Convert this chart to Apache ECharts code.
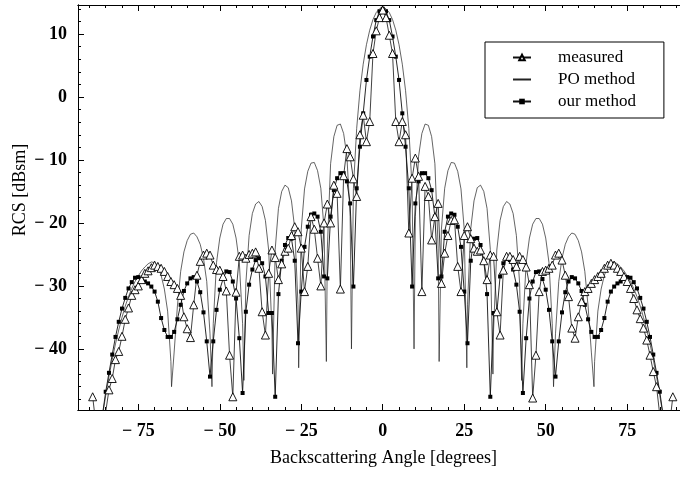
<!DOCTYPE html>
<html>
<head>
<meta charset="utf-8">
<script src="https://cdn.jsdelivr.net/npm/echarts@6/dist/echarts.min.js"></script>
<style>
  html, body { margin: 0; padding: 0; background: #fff; }
  #chart { width: 680px; height: 477px; }
</style>
</head>
<body>
<div id="chart"></div>
<script>
// Backscattering RCS of the target versus angle: measured data, PO prediction, and our method.

// Measured samples (degrees, dBsm)
const measuredAngles = [
  -89,-88,-87,-86,-85,-84,-83,-82,-81,-80,-79,-78,-77,-76,-75,-74,-73,-72,-71,-70,
  -69,-68,-67,-66,-65,-64,-63,-62,-61,-60,-59,-58,-57,-56,-55,-54,-53,-52,-51,-50,
  -49,-48,-47,-46,-45,-44,-43,-42,-41,-40,-39,-38,-37,-36,-35,-34,-33,-32,-31,-30,
  -29,-28,-27,-26,-25,-24,-23,-22,-21,-20,-19,-18,-17,-16,-15,-14,-13,-12,-11,-10,
  -9,-8,-7,-6,-5,-4,-3,-2,-1,0,1,2,3,4,5,6,7,8,9,10,
  11,12,13,14,15,16,17,18,19,20,21,22,23,24,25,26,27,28,29,30,
  31,32,33,34,35,36,37,38,39,40,41,42,43,44,45,46,47,48,49,50,
  51,52,53,54,55,56,57,58,59,60,61,62,63,64,65,66,67,68,69,70,
  71,72,73,74,75,76,77,78,79,80,81,82,83,84,85,86,87,88,89
];
const measuredDb = [
  -47.6,-52.0,-55.0,-53.0,-50.0,-46.5,-44.7,-41.7,-40.4,-38.0,-35.3,-33.5,-31.5,-30.6,-30.0,-29.0,-28.0,-27.6,-27.1,-26.7,
  -26.9,-27.2,-27.7,-28.5,-29.3,-29.8,-30.4,-31.5,-34.9,-36.8,-38.2,-33.0,-28.3,-26.1,-25.1,-24.8,-25.1,-26.7,-27.4,-27.5,
  -28.5,-30.8,-41.0,-47.6,-31.0,-25.3,-25.1,-25.6,-25.0,-24.8,-24.6,-27.2,-34.1,-37.8,-28.0,-24.3,-25.5,-29.0,-26.5,-24.5,
  -24.0,-22.0,-20.6,-21.4,-24.0,-30.9,-26.9,-19.0,-21.0,-25.6,-30.0,-20.0,-17.0,-20.0,-14.0,-15.3,-30.5,-12.5,-8.2,-9.5,
  -13.0,-15.8,-6.0,-2.9,-7.1,-3.9,6.9,10.5,12.6,13.8,12.6,9.8,6.9,-3.9,-7.1,-3.9,-6.0,-21.6,-12.9,-9.7,
  -12.6,-30.9,-14.2,-15.8,-22.7,-19.0,-16.9,-29.6,-24.8,-22.0,-19.6,-19.5,-26.9,-30.9,-22.0,-20.6,-22.5,-24.0,-24.5,-24.3,
  -26.0,-29.0,-25.1,-25.3,-34.1,-37.8,-27.5,-25.3,-25.3,-25.8,-26.9,-25.3,-25.8,-27.0,-29.8,-47.8,-41.0,-30.9,-27.7,-27.5,
  -27.2,-26.7,-25.1,-24.8,-25.9,-28.3,-31.7,-36.7,-38.3,-34.9,-32.5,-30.9,-30.4,-29.6,-29.0,-28.5,-28.0,-27.2,-26.7,-26.4,
  -26.7,-27.2,-27.7,-28.5,-29.3,-30.4,-32.0,-33.8,-35.2,-36.7,-38.6,-41.0,-43.6,-46.0,-50.5,-53.0,-55.0,-52.0,-47.6
];

// Our method (degrees, dBsm)
const ourAngles = [
  -86,-85,-84,-83,-82,-81,-80,-79,-78,-77,-76,-75,-74,-73,-72,-71,-70,-69,-68,-67,
  -66,-65,-64,-63,-62,-61,-60,-59,-58,-57,-56,-55,-54,-53,-52,-51,-50,-49,-48,-47,
  -46,-45,-44,-43,-42,-41,-40,-39,-38,-37,-36,-35,-34,-33,-32,-31,-30,-29,-28,-27,
  -26,-25,-24,-23,-22,-21,-20,-19,-18,-17,-16,-15,-14,-13,-12,-11,-10,-9,-8,-7,
  -6,-5,-4,-3,-2,-1,0,1,2,3,4,5,6,7,8,9,10,11,12,13,
  14,15,16,17,18,19,20,21,22,23,24,25,26,27,28,29,30,31,32,33,
  34,35,36,37,38,39,40,41,42,43,44,45,46,47,48,49,50,51,52,53,
  54,55,56,57,58,59,60,61,62,63,64,65,66,67,68,69,70,71,72,73,
  74,75,76,77,78,79,80,81,82,83,84,85,86
];
const ourDb = [
  -50.5,-46.8,-43.8,-40.9,-38.1,-35.7,-33.6,-31.9,-30.4,-29.4,-28.7,-28.6,-28.9,-29.3,-29.6,-30.1,-30.9,-32.5,-35.1,-37.0,
  -38.1,-38.1,-37.3,-35.3,-33.0,-30.8,-29.6,-28.8,-28.6,-29.3,-31.0,-34.2,-38.8,-44.4,-38.8,-33.8,-30.6,-28.9,-27.7,-27.8,
  -29.3,-32.0,-38.3,-47.0,-34.1,-29.8,-27.4,-25.9,-25.6,-26.4,-28.5,-34.3,-34.3,-47.6,-31.3,-26.0,-23.5,-22.4,-22.5,-26.0,
  -39.1,-30.9,-23.8,-20.6,-18.7,-18.5,-19.0,-21.4,-28.5,-28.8,-19.0,-14.8,-12.9,-12.1,-12.1,-13.4,-16.9,-30.1,-14.5,-7.9,
  -2.6,2.7,6.4,9.6,12.2,13.6,14.0,13.6,12.2,9.6,6.4,2.7,-2.6,-7.9,-14.5,-30.1,-16.9,-13.4,-12.1,-12.1,
  -12.9,-14.8,-19.0,-28.8,-28.5,-21.4,-19.0,-18.5,-18.7,-20.6,-23.8,-30.9,-39.1,-26.0,-22.5,-22.4,-23.5,-26.0,-31.3,-47.6,
  -34.3,-34.3,-28.5,-26.4,-25.6,-25.9,-27.4,-29.8,-34.1,-47.0,-38.3,-32.0,-29.3,-27.8,-27.7,-28.9,-30.6,-33.8,-38.8,-44.4,
  -38.8,-34.2,-31.0,-29.3,-28.6,-28.8,-29.6,-30.8,-33.0,-35.3,-37.3,-38.1,-38.1,-37.0,-35.1,-32.5,-30.9,-30.1,-29.6,-29.3,
  -28.9,-28.6,-28.7,-29.4,-30.4,-31.9,-33.6,-35.7,-38.1,-40.9,-43.8,-46.8,-50.5
];

// Physical optics prediction (degrees, dBsm), traced along the curve including its nulls
const poAngles = [
  -87,-86,-85,-84,-83,-82,-81,-80,-79,-78,-77,-76,-75,-74,-73,-72,-71,-70,-69,-68,-67,-66,-65,-64.8,
  -64,-63,-62,-61,-60,-59,-58,-57,-56,-55,-54,-53,-52.4,
  -52,-51,-50,-49,-48,-47,-46,-45,-44,-43,-42.6,
  -42,-41,-40,-39,-38,-37,-36,-35,-34,-33.8,
  -33,-32,-31,-30,-29,-28,-27,-26,-25.8,
  -25,-24,-23,-22,-21,-20,-19,-18,-17.3,
  -17,-16,-15,-14,-13,-12,-11,-10,-9.6,
  -9,-8,-7,-6,-5,-4,-3,-2,-1,0,1,2,3,4,5,6,7,8,9,
  9.6,10,11,12,13,14,15,16,17,
  17.3,18,19,20,21,22,23,24,25,
  25.8,26,27,28,29,30,31,32,33,
  33.8,34,35,36,37,38,39,40,41,42,
  42.6,43,44,45,46,47,48,49,50,51,52,
  52.4,53,54,55,56,57,58,59,60,61,62,63,64,
  64.8,65,66,67,68,69,70,71,72,73,74,75,76,77,78,79,80,81,82,83,84,85,86,87
];
const poDb = [
  -54.0,-50.6,-47.4,-44.4,-41.7,-39.2,-37.0,-35.0,-33.2,-31.7,-30.4,-29.3,-28.4,-27.6,-27.0,-26.5,-26.2,-26.3,-27.0,-28.3,-30.5,-34.0,-42.0,-46.0,
  -40.5,-33.2,-27.7,-24.6,-22.8,-21.8,-21.6,-22.2,-23.4,-25.6,-29.3,-37.6,-46.0,
  -36.0,-26.3,-22.4,-20.2,-19.3,-19.3,-20.2,-22.4,-26.3,-36.0,-45.0,
  -29.6,-22.0,-18.5,-17.0,-16.6,-17.4,-19.6,-24.3,-37.0,-44.0,
  -24.2,-17.7,-15.0,-14.0,-14.4,-16.5,-20.9,-33.0,-43.0,
  -21.0,-14.6,-11.8,-10.5,-10.4,-11.7,-14.5,-21.0,-42.0,
  -24.0,-10.6,-6.3,-4.5,-4.3,-5.8,-9.4,-19.0,-40.0,
  -14.5,-5.0,1.0,5.2,8.3,10.6,12.3,13.4,14.0,14.2,14.0,13.4,12.3,10.6,8.3,5.2,1.0,-5.0,-14.5,
  -40.0,-19.0,-9.4,-5.8,-4.3,-4.5,-6.3,-10.6,-24.0,
  -42.0,-21.0,-14.5,-11.7,-10.4,-10.5,-11.8,-14.6,-21.0,
  -43.0,-33.0,-20.9,-16.5,-14.4,-14.0,-15.0,-17.7,-24.2,
  -44.0,-37.0,-24.3,-19.6,-17.4,-16.6,-17.0,-18.5,-22.0,-29.6,
  -45.0,-36.0,-26.3,-22.4,-20.2,-19.3,-19.3,-20.2,-22.4,-26.3,-36.0,
  -46.0,-37.6,-29.3,-25.6,-23.4,-22.2,-21.6,-21.8,-22.8,-24.6,-27.7,-33.2,-40.5,
  -46.0,-42.0,-34.0,-30.5,-28.3,-27.0,-26.3,-26.2,-26.5,-27.0,-27.6,-28.4,-29.3,-30.4,-31.7,-33.2,-35.0,-37.0,-39.2,-41.7,-44.4,-47.4,-50.6,-54.0
];

// Axis ticks
const xLabelTicks = [-75, -50, -25, 0, 25, 50, 75];
const xMinorTicks = [-90,-85,-80,-70,-65,-60,-55,-45,-40,-35,-30,-20,-15,-10,-5,5,10,15,20,30,35,40,45,55,60,65,70,80,85,90];
const yLabelTicks = [-40, -30, -20, -10, 0, 10];
const yMinorTicks = [-48,-46,-44,-42,-38,-36,-34,-32,-28,-26,-24,-22,-18,-16,-14,-12,-8,-6,-4,-2,2,4,6,8,12,14];

const seriesNames = ['measured', 'PO method', 'our method'];

function pairs(xs, ys) {
  return xs.map((x, i) => [x, ys[i]]);
}
function tickText(v) {
  return v < 0 ? '\u2212 ' + Math.abs(v) : String(v);
}

const X_MIN = -93.5, X_MAX = 91.2;
const Y_MIN = -49.7, Y_MAX = 14.6;
const SERIF = '"Liberation Serif", "Times New Roman", serif';

const chart = echarts.init(document.getElementById('chart'), null, { renderer: 'canvas' });

const hiddenAxisPart = { show: false };
function xAxisBase(extra) {
  return Object.assign({
    type: 'value', min: X_MIN, max: X_MAX,
    splitLine: { show: false },
    axisLine: { show: true, onZero: false, lineStyle: { color: '#000', width: 1 } }
  }, extra);
}
function yAxisBase(extra) {
  return Object.assign({
    type: 'value', min: Y_MIN, max: Y_MAX,
    splitLine: { show: false },
    axisLine: { show: true, onZero: false, lineStyle: { color: '#000', width: 1 } }
  }, extra);
}

const option = {
  animation: false,
  backgroundColor: '#fff',
  grid: { left: 78, right: 0, top: 5, bottom: 67, containLabel: false },
  xAxis: [
    xAxisBase({
      position: 'bottom',
      axisTick: { show: true, inside: true, length: 6, customValues: xLabelTicks, lineStyle: { color: '#000' } },
      axisLabel: {
        show: true, customValues: xLabelTicks, formatter: tickText, margin: 12,
        fontFamily: SERIF, fontWeight: 'bold', fontSize: 18, color: '#000'
      }
    }),
    xAxisBase({
      position: 'bottom',
      axisTick: { show: true, inside: true, length: 3, customValues: xMinorTicks, lineStyle: { color: '#000' } },
      axisLabel: hiddenAxisPart
    }),
    xAxisBase({
      position: 'top',
      axisTick: { show: true, inside: true, length: 6, customValues: xLabelTicks, lineStyle: { color: '#000' } },
      axisLabel: hiddenAxisPart
    }),
    xAxisBase({
      position: 'top',
      axisTick: { show: true, inside: true, length: 3, customValues: xMinorTicks, lineStyle: { color: '#000' } },
      axisLabel: hiddenAxisPart
    })
  ],
  yAxis: [
    yAxisBase({
      position: 'left',
      axisTick: { show: true, inside: true, length: 6, customValues: yLabelTicks, lineStyle: { color: '#000' } },
      axisLabel: {
        show: true, customValues: yLabelTicks, formatter: tickText, margin: 11,
        fontFamily: SERIF, fontWeight: 'bold', fontSize: 18, color: '#000'
      }
    }),
    yAxisBase({
      position: 'left',
      axisTick: { show: true, inside: true, length: 3, customValues: yMinorTicks, lineStyle: { color: '#000' } },
      axisLabel: hiddenAxisPart
    })
  ],
  legend: {
    orient: 'vertical',
    left: 485,
    top: 42,
    padding: [7, 28, 8, 27],
    itemGap: 5,
    itemWidth: 18,
    itemHeight: 7,
    borderColor: '#000',
    borderWidth: 1,
    backgroundColor: '#fff',
    data: [
      { name: seriesNames[0] },
      { name: seriesNames[1], itemStyle: { opacity: 0 } },
      { name: seriesNames[2] }
    ],
    textStyle: { fontFamily: SERIF, fontSize: 17, color: '#000', padding: [0, 0, 0, 22] }
  },
  graphic: [
    {
      type: 'text', left: 382 - 112, top: 449,
      style: { text: 'Backscattering Angle [degrees]', font: '18px ' + SERIF, fill: '#000' }
    },
    {
      type: 'text', x: 20, y: 190, rotation: Math.PI / 2,
      style: { text: 'RCS [dBsm]', font: '18px ' + SERIF, fill: '#000', align: 'center', verticalAlign: 'middle' }
    }
  ],
  series: [
    {
      name: seriesNames[1], type: 'line', z: 2,
      data: pairs(poAngles, poDb),
      showSymbol: false, symbol: 'none',
      lineStyle: { color: '#222', width: 0.7 },
      itemStyle: { color: '#222' }
    },
    {
      name: seriesNames[2], type: 'line', z: 3,
      data: pairs(ourAngles, ourDb),
      symbol: 'rect', symbolSize: 4, showAllSymbol: true,
      lineStyle: { color: '#111', width: 0.9 },
      itemStyle: { color: '#000' }
    },
    {
      name: seriesNames[0], type: 'line', z: 4,
      data: pairs(measuredAngles, measuredDb),
      symbol: 'triangle', symbolSize: [8, 8], showAllSymbol: true,
      lineStyle: { color: '#111', width: 0.8 },
      itemStyle: { color: '#fff', borderColor: '#000', borderWidth: 0.9 }
    }
  ]
};

chart.setOption(option);
</script>
</body>
</html>
